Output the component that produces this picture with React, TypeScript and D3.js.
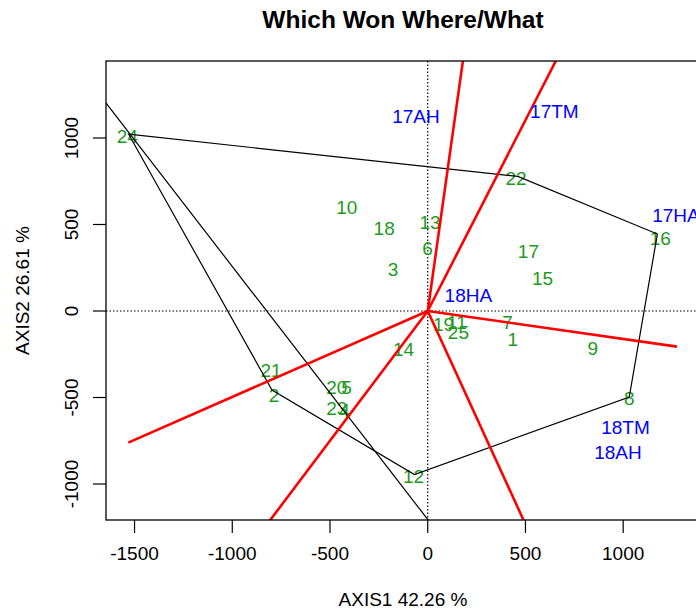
import React from "react";
import * as d3 from "d3";

// genotype labels (green) and their biplot scores
const genoNames = ["1", "2", "3", "4", "5", "6", "7", "8", "9", "10", "11", "12", "13",
  "14", "15", "16", "17", "18", "19", "20", "21", "22", "23", "24", "25"];
const genoX = [435, -786, -178, -426, -416, -1, 408, 1031, 845, -414, 149, -73, 12,
  -124, 587, 1190, 515, -223, 81, -465, -802, 452, -465, -1537, 157];
const genoY = [-164, -486, 241, -576, -441, 366, -62, -503, -216, 603, -65, -954, 513,
  -221, 192, 423, 343, 478, -75, -438, -341, 770, -562, 1012, -123];

// environment labels (blue)
const envNames = ["17AH", "17TM", "17HA", "18HA", "18TM", "18AH"];
const envX = [-60, 648, 1270, 208, 1012, 973];
const envY = [1129, 1154, 555, 92, -669, -813];

// polygon of the winning genotypes (24, 22, 16, 8, 12, 2)
const hullX = [-1530, 461, 1175, 1031, -68, -797];
const hullY = [1022, 778, 445, -497, -945, -457];

// extra edge running through genotype 24
const edgeX = [-1728, 35];
const edgeY = [1322, -1256];

// sector rays from the origin
const rayX = [216, 786, 1275, 588, -967, -1532];
const rayY = [1734, 1734, -206, -1450, -1450, -761];

const xTicks = [-1500, -1000, -500, 0, 500, 1000];
const yTicks = [-1000, -500, 0, 500, 1000];

const W = 696;
const H = 613;
const left = 106, right = 700, top = 61, bottom = 520;
const font = "'Liberation Sans', Arial, Helvetica, sans-serif";

export default function App() {
  const x = d3.scaleLinear().domain([-1646, 1393]).range([left, right]);
  const y = d3.scaleLinear().domain([-1208, 1445]).range([bottom, top]);

  const hull = d3.line<number>()
    .x((i) => x(hullX[i]))
    .y((i) => y(hullY[i]))
    .curve(d3.curveLinearClosed);

  return (
    <svg width={W} height={H} style={{ position: "absolute", left: 0, top: 0, background: "#fff" }}
      fontFamily={font}>
      <defs>
        <clipPath id="plotclip">
          <rect x={left} y={top} width={right - left} height={bottom - top} />
        </clipPath>
      </defs>
      <rect x={0} y={0} width={W} height={H} fill="#fff" />

      <text x={(left + right) / 2} y={28} textAnchor="middle" fontSize={24.5} fontWeight="bold">
        Which Won Where/What
      </text>

      <g clipPath="url(#plotclip)">
        <line x1={x(0)} x2={x(0)} y1={top} y2={bottom} stroke="#000" strokeWidth={1.2} strokeDasharray="1.5,2" />
        <line x1={left} x2={right} y1={y(0)} y2={y(0)} stroke="#000" strokeWidth={1.2} strokeDasharray="1.5,2" />

        {genoNames.map((n, i) => (
          <text key={"g" + i} x={x(genoX[i])} y={y(genoY[i])} dy="0.36em" textAnchor="middle"
            fontSize={19} fill="#1e9a1e">{n}</text>
        ))}

        <path d={hull(d3.range(hullX.length)) ?? ""} fill="none" stroke="#000" strokeWidth={1.2} />
        <line x1={x(edgeX[0])} y1={y(edgeY[0])} x2={x(edgeX[1])} y2={y(edgeY[1])}
          stroke="#000" strokeWidth={1.2} />

        {rayX.map((rx, i) => (
          <line key={"r" + i} x1={x(0)} y1={y(0)} x2={x(rx)} y2={y(rayY[i])}
            stroke="#ff0000" strokeWidth={2.6} />
        ))}
      </g>

      {envNames.map((n, i) => (
        <text key={"e" + i} x={x(envX[i])} y={y(envY[i])} dy="0.36em" textAnchor="middle"
          fontSize={19} fill="#0000ff">{n}</text>
      ))}

      <rect x={left} y={top} width={right - left} height={bottom - top} fill="none" stroke="#000" strokeWidth={1.3} />

      {xTicks.map((t) => (
        <g key={"xt" + t}>
          <line x1={x(t)} x2={x(t)} y1={bottom} y2={bottom + 13} stroke="#000" strokeWidth={1.2} />
          <text x={x(t)} y={553} dy="0.36em" textAnchor="middle" fontSize={19}>{t}</text>
        </g>
      ))}
      {yTicks.map((t) => (
        <g key={"yt" + t}>
          <line x1={left} x2={left - 13} y1={y(t)} y2={y(t)} stroke="#000" strokeWidth={1.2} />
          <text x={71} y={y(t)} dy="0.36em" textAnchor="middle" fontSize={19}
            transform={`rotate(-90, 71, ${y(t)})`}>{t}</text>
        </g>
      ))}

      <text x={(left + right) / 2} y={599} dy="0.36em" textAnchor="middle" fontSize={19}>AXIS1 42.26 %</text>
      <text x={22} y={(top + bottom) / 2} dy="0.36em" textAnchor="middle" fontSize={19}
        transform={`rotate(-90, 22, ${(top + bottom) / 2})`}>AXIS2 26.61 %</text>
    </svg>
  );
}
